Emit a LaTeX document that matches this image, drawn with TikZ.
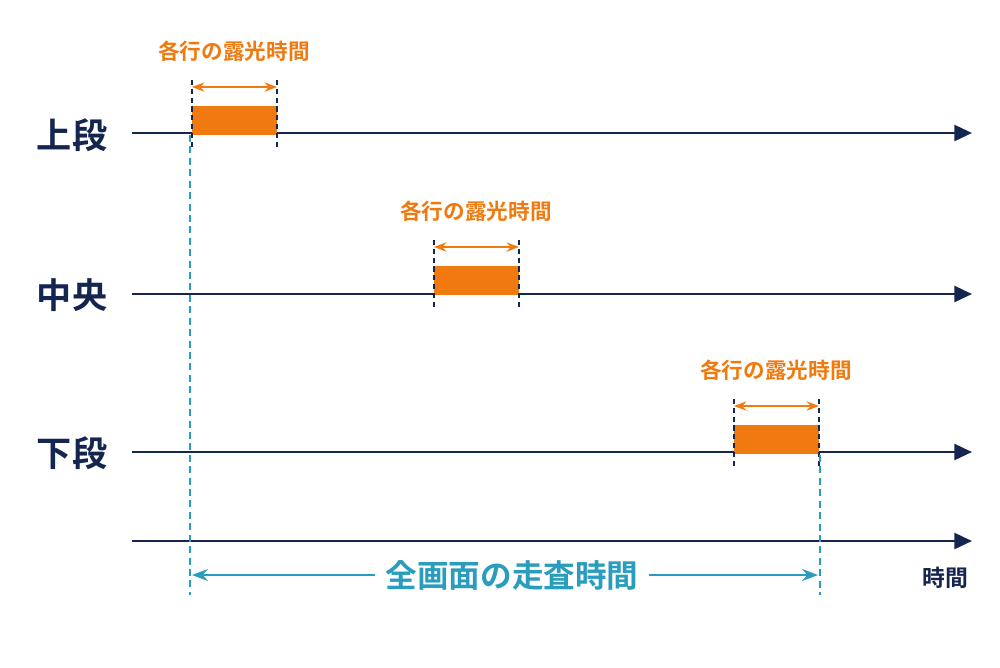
\documentclass[tikz,border=0pt]{standalone}
\usepackage{fontspec}
\newfontfamily\cjk{Noto Sans CJK JP}[BoldFont={Noto Sans CJK JP Bold}]
\usetikzlibrary{arrows.meta}
\definecolor{navy}{HTML}{14254F}
\definecolor{expo}{HTML}{F07A10}
\definecolor{scan}{HTML}{2A9DBF}
\tikzset{
  axis/.style={navy,line width=1.6pt,-{Triangle[length=10pt,width=9pt]}},
  edge/.style={navy,dashed,line width=0.8pt,dash pattern=on 3pt off 2pt},
  lbl/.style={navy,font=\cjk\bfseries\fontsize{20}{20}\selectfont},
  expolbl/.style={expo,font=\cjk\bfseries\fontsize{12.3}{13}\selectfont},
  expoarr/.style={expo,line width=1.2pt,{Stealth[length=7pt]}-{Stealth[length=7pt]}}
}
\begin{document}
\begin{tikzpicture}[x=0.02cm,y=-0.02cm]
  \useasboundingbox (0,0) rectangle (1000,667);
  %% row labels
  \node[lbl] (top) at (72,135) {上段};
  \node[lbl] (mid) at (72,295) {中央};
  \node[lbl] (bot) at (72,453) {下段};
  %% time axes
  \foreach \y/\n in {133/a,294/b,452/c,541/d} {
    \coordinate (s\n) at (132,\y);
    \coordinate (e\n) at (972,\y);
    \draw[axis] (s\n) -- (e\n);
  }
  %% exposure windows
  \foreach \x/\y/\n in {192/106/1,434/266/2,734/425/3} {
    \fill[expo] (\x,\y) rectangle ++(85,29);
    \coordinate (l\n) at (\x,\y-19);
    \coordinate (r\n) at (\x+85,\y-19);
    \draw[edge] (\x,\y-26) -- (\x,\y+44);
    \draw[edge] (\x+85,\y-26) -- (\x+85,\y+44);
    \draw[expoarr] (l\n) -- (r\n);
    \node[expolbl] (x\n) at (\x+42,\y-55) {各行の露光時間};
  }
  %% full-frame scan time
  \draw[scan,dashed,line width=0.9pt,dash pattern=on 4pt off 2.5pt] (190,135) -- (190,595);
  \draw[scan,dashed,line width=0.9pt,dash pattern=on 4pt off 2.5pt] (820,455) -- (820,595);
  \coordinate (ss) at (192,575);
  \coordinate (se) at (818,575);
  \draw[scan,line width=1.6pt,{Stealth[length=9pt]}-{Stealth[length=9pt]}] (ss) -- (se);
  \node[scan,fill=white,inner xsep=6pt,font=\cjk\bfseries\fontsize{18}{19}\selectfont] (scanlbl) at (512,575) {全画面の走査時間};
  \node[navy,font=\cjk\bfseries\fontsize{13}{14}\selectfont] (time) at (945,578) {時間};
\end{tikzpicture}
\end{document}
